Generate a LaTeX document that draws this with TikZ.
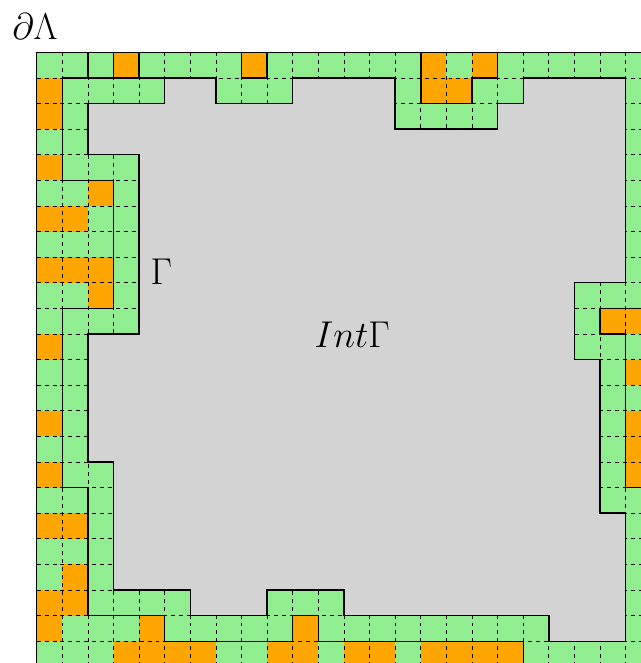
\documentclass[tikz,border=0pt]{standalone}
\usepackage{amsmath}
\usepackage{amssymb}
\usepackage{tikz}
\definecolor{cellgreen}{HTML}{90EE90}
\definecolor{cellorange}{HTML}{FFA500}
\definecolor{cellgray}{HTML}{D3D3D3}

\begin{document}
\begin{tikzpicture}[x=0.5cm, y=-0.5cm,
  gridline/.style={draw=black, line width=0.45pt, dash pattern=on 2.2pt off 2.2pt},
  contour/.style={draw=black, line width=0.8pt, line join=miter},
  lbl/.style={font=\fontsize{22}{26}\selectfont, inner sep=0pt}]
% frame
\useasboundingbox (-1.434,-2.043) rectangle (23.6,23.85);
\clip (-1.434,-2.043) rectangle (23.6,23.85);

% cells
\fill[cellgreen] (0,0) rectangle (24,24);
\foreach \c/\r in {3/0,8/0,15/0,17/0, 0/1,15/1,16/1, 0/2, 0/4, 2/5, 0/6,1/6,
  0/8,1/8,2/8, 2/9, 22/10,23/10, 0/11, 23/12, 0/14,23/14, 23/15, 0/16,23/16,
  0/18,1/18, 1/20, 0/21,1/21, 0/22,4/22,10/22,
  3/23,4/23,5/23,6/23,9/23,10/23,12/23,13/23,15/23,16/23,17/23,18/23}
  {\fill[cellorange] (\c,\r) rectangle ++(1,1);}
\foreach \i in {1,...,23}{
  \draw[gridline] (\i,0) -- (\i,24);
  \draw[gridline] (0,\i) -- (24,\i);
}

% interior
\filldraw[contour, fill=cellgray] (2,2) -- (5,2) -- (5,1) -- (7,1) -- (7,2) -- (10,2) -- (10,1)
  -- (14,1) -- (14,3) -- (18,3) -- (18,2) -- (19,2) -- (19,1) -- (23,1) -- (23,9) -- (21,9)
  -- (21,12) -- (22,12) -- (22,18) -- (23,18) -- (23,23) -- (20,23) -- (20,22) -- (12,22)
  -- (12,21) -- (9,21) -- (9,22) -- (6,22) -- (6,21) -- (3,21) -- (3,16) -- (2,16) -- (2,11)
  -- (4,11) -- (4,4) -- (2,4) -- cycle;

% contour
\draw[contour] (2,0) -- (2,1) (5,1) -- (1,1) -- (1,5) -- (3,5) -- (3,10) -- (1,10) -- (1,17) -- (2,17)
  -- (2,22) -- (5,22) -- (5,23) -- (10,23) -- (10,22) -- (11,22) -- (11,23) -- (19,23) -- (19,24);
\draw[contour] (3,0) -- (3,1) -- (4,1) -- (4,0);
\draw[contour] (8,0) -- (8,1) -- (9,1) -- (9,0);
\draw[contour] (15,0) -- (15,2) -- (17,2) -- (17,1) -- (18,1) -- (18,0);
\draw[contour] (24,10) -- (22,10) -- (22,11) -- (23,11) -- (23,17) -- (24,17);
% boundary
\draw[contour] (0,0) rectangle (24,24);

% labels
\node[lbl] (bdry) at (-0.07,-0.99) {$\partial\Lambda$};
\node[lbl] (gam) at (4.87,8.57) {$\Gamma$};
\node[lbl] (intgam) at (12.32,11.04) {$Int\Gamma$};
\end{tikzpicture}
\end{document}
